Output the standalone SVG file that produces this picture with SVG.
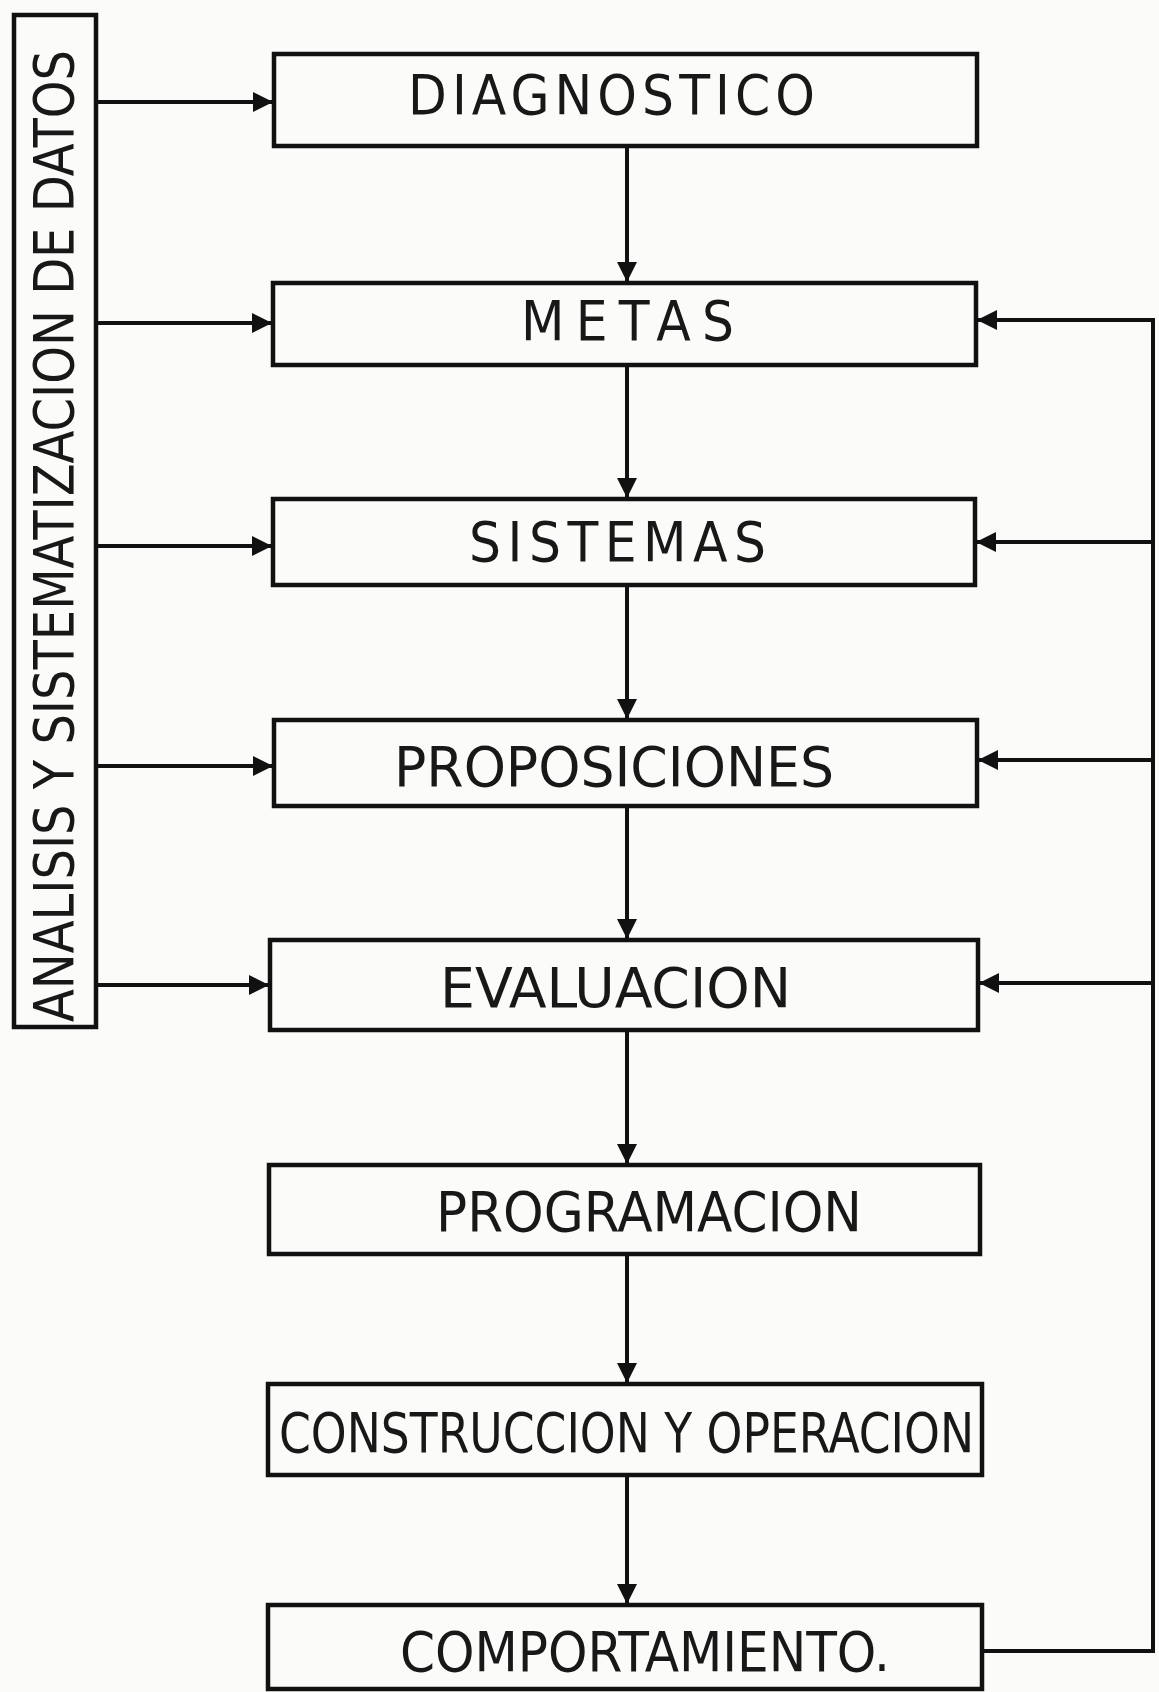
<svg xmlns="http://www.w3.org/2000/svg" width="1159" height="1692" viewBox="0 0 1159 1692">
<style>
.box{fill:none;stroke:#111;stroke-width:4.5}
.lbl{font-family:"DejaVu Sans Condensed","Liberation Sans",sans-serif;font-size:56px;fill:#181818;text-anchor:start}
.con{fill:none;stroke:#111;stroke-width:4}
</style>
<defs>
<marker id="ah" markerUnits="userSpaceOnUse" markerWidth="22" markerHeight="20" refX="20" refY="10" orient="auto">
<path d="M0,0 L20,10 L0,20 Z" fill="#111"/>
</marker>
</defs>
<rect width="1159" height="1692" fill="#fbfbf9"/>

<g id="analisis">
<rect class="box" x="14" y="15" width="82" height="1012" stroke-width="5.5"/>
<text class="lbl" transform="translate(73,1022) rotate(-90)" font-size="54" textLength="972" lengthAdjust="spacingAndGlyphs">ANALISIS Y SISTEMATIZACION DE DATOS</text>
</g>

<g id="diagnostico">
<rect class="box" x="274" y="54" width="703" height="92"/>
<text class="lbl" x="408" y="114" textLength="407" lengthAdjust="spacing">DIAGNOSTICO</text>
</g>
<g id="metas">
<rect class="box" x="273" y="283" width="703" height="82"/>
<text class="lbl" x="521" y="340" textLength="213" lengthAdjust="spacing">METAS</text>
</g>
<g id="sistemas">
<rect class="box" x="273" y="499" width="702" height="86"/>
<text class="lbl" x="469" y="561" textLength="297" lengthAdjust="spacing">SISTEMAS</text>
</g>
<g id="proposiciones">
<rect class="box" x="274" y="720" width="703" height="86"/>
<text class="lbl" x="394" y="786" textLength="440" lengthAdjust="spacingAndGlyphs">PROPOSICIONES</text>
</g>
<g id="evaluacion">
<rect class="box" x="270" y="940" width="708" height="90"/>
<text class="lbl" x="440" y="1007" textLength="351" lengthAdjust="spacingAndGlyphs">EVALUACION</text>
</g>
<g id="programacion">
<rect class="box" x="269" y="1165" width="711" height="89"/>
<text class="lbl" x="436" y="1231" textLength="426" lengthAdjust="spacingAndGlyphs">PROGRAMACION</text>
</g>
<g id="construccion">
<rect class="box" x="268" y="1384" width="714" height="91"/>
<text class="lbl" x="279" y="1452" textLength="695" lengthAdjust="spacingAndGlyphs">CONSTRUCCION Y OPERACION</text>
</g>
<g id="comportamiento">
<rect class="box" x="268" y="1605" width="714" height="84"/>
<text class="lbl" x="400" y="1671" textLength="490" lengthAdjust="spacingAndGlyphs">COMPORTAMIENTO.</text>
</g>

<g id="connectors">
<line class="con" x1="96" y1="102" x2="273" y2="102" marker-end="url(#ah)"/>
<line class="con" x1="96" y1="323" x2="272" y2="323" marker-end="url(#ah)"/>
<line class="con" x1="96" y1="546" x2="272" y2="546" marker-end="url(#ah)"/>
<line class="con" x1="96" y1="766" x2="273" y2="766" marker-end="url(#ah)"/>
<line class="con" x1="96" y1="985" x2="269" y2="985" marker-end="url(#ah)"/>

<line class="con" x1="627" y1="146" x2="627" y2="282" marker-end="url(#ah)"/>
<line class="con" x1="627" y1="365" x2="627" y2="498" marker-end="url(#ah)"/>
<line class="con" x1="627" y1="585" x2="627" y2="719" marker-end="url(#ah)"/>
<line class="con" x1="627" y1="806" x2="627" y2="939" marker-end="url(#ah)"/>
<line class="con" x1="627" y1="1030" x2="627" y2="1164" marker-end="url(#ah)"/>
<line class="con" x1="627" y1="1254" x2="627" y2="1383" marker-end="url(#ah)"/>
<line class="con" x1="627" y1="1475" x2="627" y2="1604" marker-end="url(#ah)"/>

<polyline class="con" points="982,1651 1153,1651 1153,318" stroke-width="5"/>
<line class="con" x1="1153" y1="320" x2="977" y2="320" marker-end="url(#ah)"/>
<line class="con" x1="1153" y1="542" x2="976" y2="542" marker-end="url(#ah)"/>
<line class="con" x1="1153" y1="760" x2="978" y2="760" marker-end="url(#ah)"/>
<line class="con" x1="1153" y1="983" x2="979" y2="983" marker-end="url(#ah)"/>
</g>
</svg>
